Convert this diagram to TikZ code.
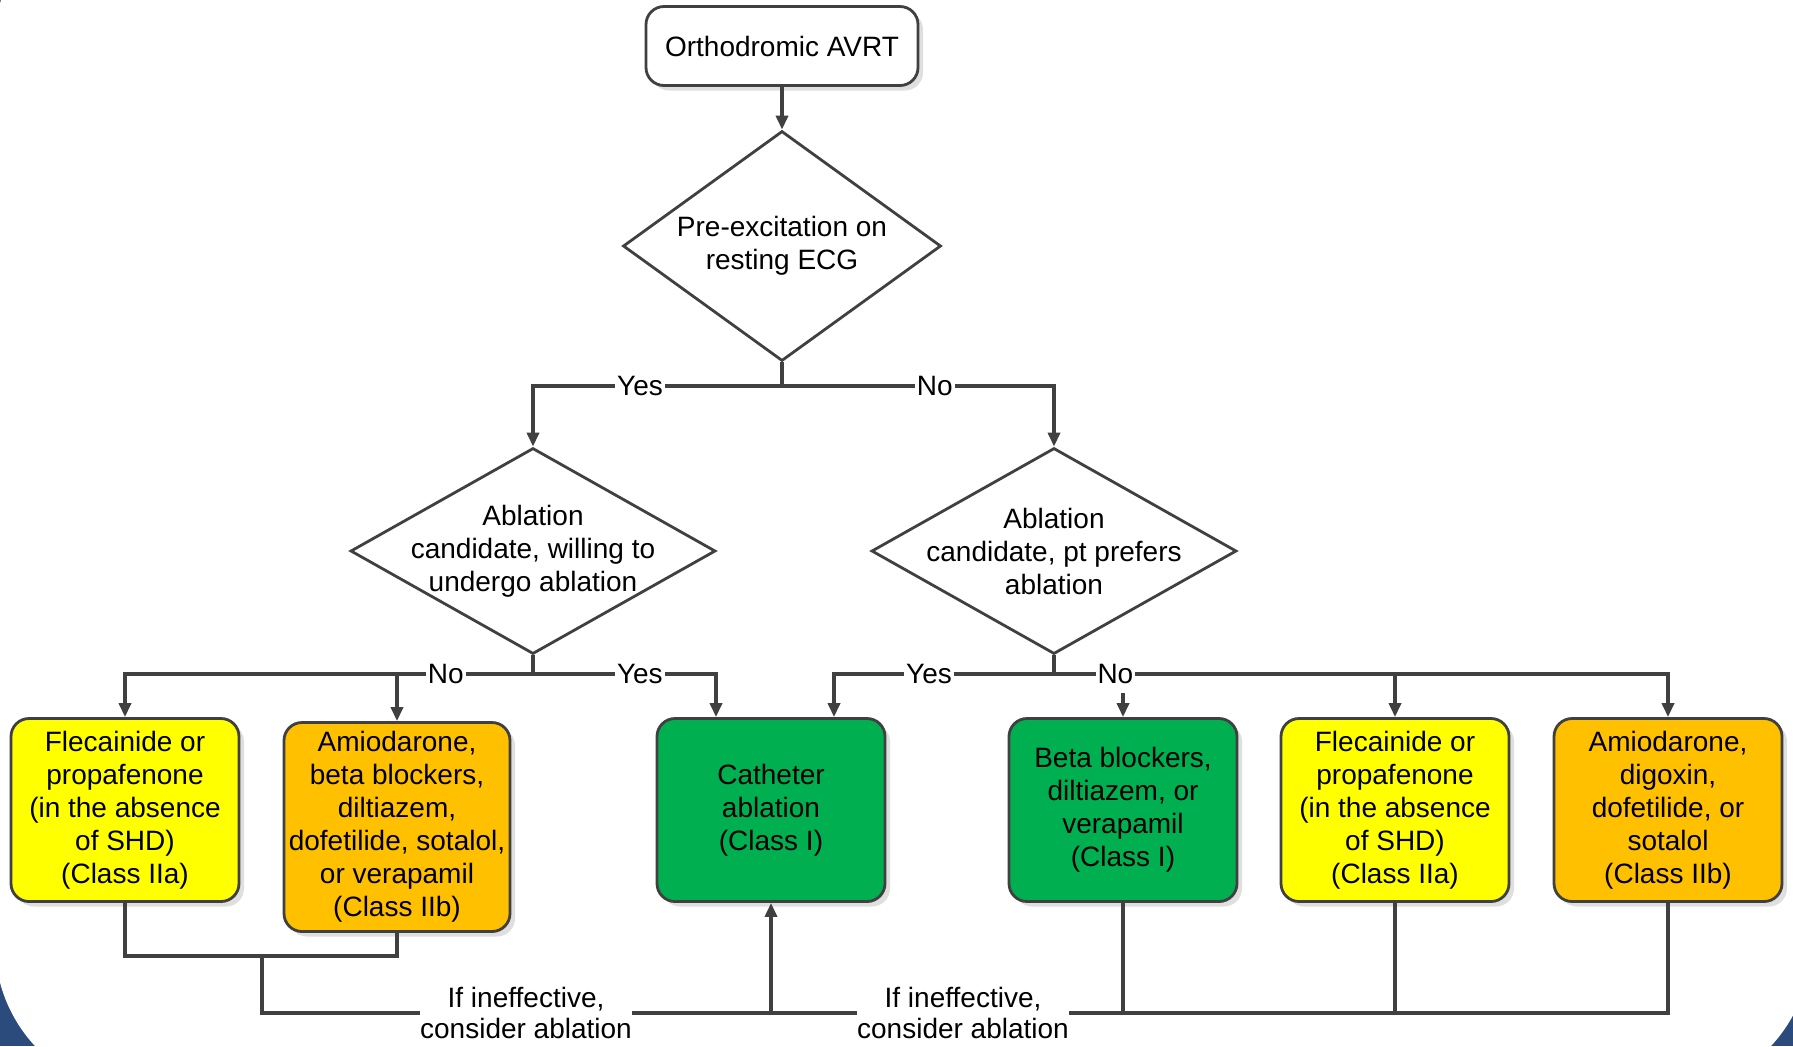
\documentclass[tikz,border=0pt]{standalone}
\usepackage{fontspec}
\setmainfont{Liberation Sans}
\usetikzlibrary{shapes.geometric,arrows.meta,shadows}
\definecolor{frameblue}{HTML}{2A4B7C}
\definecolor{linegray}{HTML}{404040}
\definecolor{boxyellow}{HTML}{FFFF00}
\definecolor{boxorange}{HTML}{FFC000}
\definecolor{boxgreen}{HTML}{00B050}

\begin{document}
\begin{tikzpicture}[x=.5pt,y=-.5pt,
		font=\fontsize{14}{16.5}\selectfont,
		conn/.style={draw=linegray,line width=1.7pt},
		arr/.style={conn,-{Triangle[length=7pt,width=6pt]}},
		txtbox/.style={draw=linegray,line width=1.4pt,rounded corners=9pt,align=center,
			minimum width=114pt,minimum height=91.5pt,inner sep=0pt,
			drop shadow={shadow xshift=2.5pt,shadow yshift=-2.5pt,opacity=.25}},
		decision/.style={diamond,draw=linegray,line width=1.4pt,inner sep=0pt},
		lbl/.style={fill=white,inner sep=1pt},
		note/.style={align=center,inner sep=0pt,font=\fontsize{14}{15.5}\selectfont}]
		\useasboundingbox (0,0) rectangle (1793,1046);
		\fill[frameblue] (0,0) rectangle (1793,1046);
		\fill[white,rounded corners=75pt] (-5,-108) rectangle (1811,1094);

		\node[txtbox,fill=white,minimum width=136pt,minimum height=39.5pt] (start) at (782,46) {Orthodromic AVRT};

		\node[decision,minimum width=159pt,minimum height=115pt] (pre) at (782,246) {};
		\node[align=center] (pretxt) at (pre) {Pre-excitation on\\resting ECG};
		\node[decision,minimum width=182.5pt,minimum height=103pt] (willing) at (533,551) {};
		\node[align=center] (willingtxt) at (willing) {Ablation\\candidate, willing to\\undergo ablation};
		\node[decision,minimum width=182.5pt,minimum height=103pt] (prefers) at (1054,551) {};
		\node[align=center] (preferstxt) at (prefers) {Ablation\\candidate, pt prefers\\ablation};

		\node[txtbox,fill=boxyellow] (fleca) at (125,810) {Flecainide or\\propafenone\\(in the absence\\of SHD)\\(Class IIa)};
		\node[txtbox,fill=boxorange,minimum width=113pt,minimum height=104.5pt] (amioa) at (397,827) {Amiodarone,\\beta blockers,\\diltiazem,\\dofetilide, sotalol,\\or verapamil\\(Class IIb)};
		\node[txtbox,fill=boxgreen] (cath) at (771,810) {Catheter\\ablation\\(Class I)};
		\node[txtbox,fill=boxgreen] (beta) at (1123,810) {Beta blockers,\\diltiazem, or\\verapamil\\(Class I)};
		\node[txtbox,fill=boxyellow] (flecb) at (1395,810) {Flecainide or\\propafenone\\(in the absence\\of SHD)\\(Class IIa)};
		\node[txtbox,fill=boxorange] (amiob) at (1668,810) {Amiodarone,\\digoxin,\\dofetilide, or\\sotalol\\(Class IIb)};

		\coordinate (j1) at (782,386);
		\coordinate (j2) at (533,674);
		\coordinate (j3) at (1054,674);
		\draw[arr] (start) -- (pre);
		\draw[conn] (pre.south) -- (j1);
		\draw[arr] (j1) -| node[lbl,pos=.285] (yes1) {Yes} (willing.north);
		\draw[arr] (j1) -| node[lbl,pos=.281] (no1) {No} (prefers.north);

		\draw[conn] (willing.south) -- (j2);
		\draw[arr] (j2) -| node[lbl,pos=.107] (no2) {No} (fleca.north);
		\draw[arr] (amioa.north |- j2) -- (amioa.north);
		\draw[arr] (j2) -| node[lbl,pos=.292] (yes2) {Yes} ([xshift=-27.5pt]cath.north);

		\draw[conn] (prefers.south) -- (j3);
		\draw[arr] (j3) -| node[lbl,pos=.284] (yes3) {Yes} ([xshift=31.5pt]cath.north);
		\draw[arr] (j3) -| node[lbl,pos=.05] (no3) {No} (amiob.north);
		\draw[arr] (flecb.north |- j3) -- (flecb.north);
		\draw[arr] ([yshift=-3pt]beta.north |- no3.south) -- (beta.north);

		\coordinate (m1) at (262,956);
		\node[note] (inef1) at (526,1013) {If ineffective,\\consider ablation};
		\node[note] (inef2) at (963,1013) {If ineffective,\\consider ablation};
		\coordinate (m2) at (cath.south |- inef1.east);
		\draw[conn] (fleca.south) |- (m1) -| (amioa.south);
		\draw[conn] (m1) |- (inef1.west);
		\draw[conn] (inef1.east) -- (m2);
		\draw[conn] (inef2.west) -- (m2);
		\draw[arr] (m2) -- (cath.south);
		\draw[conn] (amiob.south) |- (inef2.east);
		\draw[conn] (beta.south) -- (beta.south |- inef2.east);
		\draw[conn] (flecb.south) -- (flecb.south |- inef2.east);
	\end{tikzpicture}
\end{document}
